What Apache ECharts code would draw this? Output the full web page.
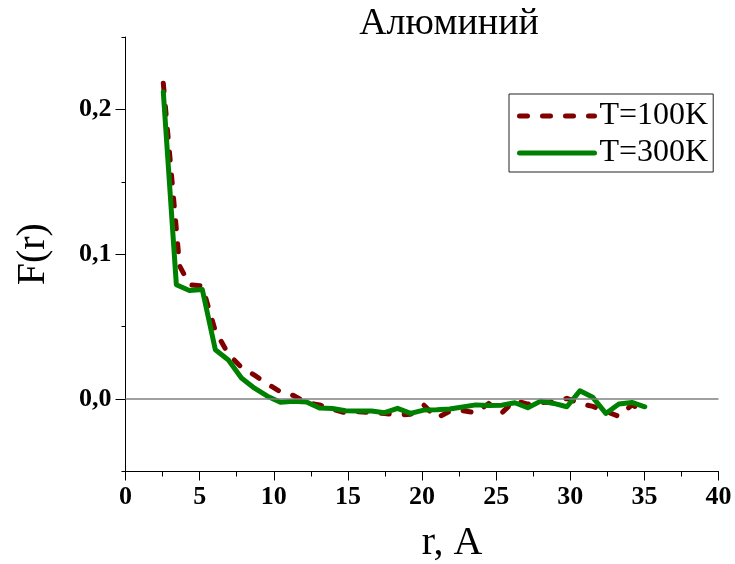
<!DOCTYPE html>
<html>
<head>
<meta charset="utf-8">
<script src="https://cdn.jsdelivr.net/npm/echarts@6/dist/echarts.min.js"></script>
<style>html,body{margin:0;padding:0;background:#fff}#c{width:735px;height:564px}</style>
</head>
<body>
<div id="c"></div>
<script>
// ---- data ----
var titleText = 'Алюминий';
var seriesNames = ['T=100K', 'T=300K'];
var r100 = [2.55, 3.65, 4.31, 5.18, 6.06, 6.94, 7.82, 8.70, 9.57, 10.45, 11.33, 12.21, 13.09, 13.96, 14.84, 15.72, 16.60, 17.48, 18.35, 19.23, 20.11, 20.99, 21.87, 22.74, 23.62, 24.50, 25.38, 26.26, 27.13, 28.01, 28.89, 29.77, 30.65, 31.52, 32.40, 33.28, 34.16, 35.03];
var f100 = [0.218, 0.092, 0.079, 0.078, 0.047, 0.031, 0.022, 0.0165, 0.0105, 0.005, 0.0025, -0.0025, -0.004, -0.007, -0.0095, -0.0088, -0.0093, -0.010, -0.011, -0.0105, -0.004, -0.013, -0.0085, -0.008, -0.0095, -0.003, -0.0095, -0.001, -0.0035, -0.0025, -0.002, 0.0005, -0.003, -0.005, -0.0085, -0.012, -0.004, -0.0085];
var r300 = [2.55, 3.43, 4.31, 5.18, 6.06, 6.94, 7.82, 8.70, 9.57, 10.45, 11.33, 12.21, 13.09, 13.96, 14.84, 15.72, 16.60, 17.48, 18.35, 19.23, 20.11, 20.99, 21.87, 22.74, 23.62, 24.50, 25.38, 26.26, 27.13, 28.01, 28.89, 29.77, 30.65, 31.52, 32.40, 33.28, 34.16, 35.03];
var f300 = [0.212, 0.079, 0.075, 0.0757, 0.034, 0.027, 0.0145, 0.0075, 0.002, -0.0022, -0.0015, -0.002, -0.0062, -0.0065, -0.008, -0.0082, -0.0083, -0.0094, -0.0064, -0.0099, -0.0076, -0.0073, -0.0068, -0.0055, -0.004, -0.0045, -0.0042, -0.0025, -0.006, -0.0014, -0.003, -0.0053, 0.0057, 0.0012, -0.0099, -0.0034, -0.0023, -0.0053];
var yMajorTicks = [0, 0.1, 0.2];
var yMinorTicks = [-0.05, 0.05, 0.15, 0.25];
var xTicks = [0, 5, 10, 15, 20, 25, 30, 35, 40];

function pairs(xs, ys) { return xs.map(function (x, i) { return [x, ys[i]]; }); }

var font = 'Liberation Serif';
var chart = echarts.init(document.getElementById('c'), null, { renderer: 'canvas' });
chart.setOption({
  animation: false,
  backgroundColor: '#ffffff',
  title: {
    text: titleText, left: 444, top: 0, textAlign: 'center',
    textStyle: { fontFamily: font, fontSize: 38, fontWeight: 'normal', color: '#000' }
  },
  legend: {
    data: seriesNames, orient: 'vertical', left: 509, top: 94,
    padding: [6, 5, 3, 8], itemGap: 5, itemWidth: 75, itemHeight: 30,
    borderColor: '#222', borderWidth: 1, backgroundColor: '#fff',
    itemStyle: { opacity: 0 },
    lineStyle: { width: 5, cap: 'round' },
    textStyle: { fontFamily: font, fontSize: 32, color: '#000', lineHeight: 30 }
  },
  grid: { left: 125.5, right: 16.5, top: 37, bottom: 92.5, containLabel: false, outerBoundsMode: 'none' },
  xAxis: {
    type: 'value', min: 0, max: 40, interval: 5,
    name: 'r, A', nameLocation: 'middle', nameGap: 52,
    nameTextStyle: { fontFamily: font, fontSize: 40, color: '#000', padding: [0, 0, 0, 60] },
    axisLine: { show: true, onZero: false, lineStyle: { color: '#000', width: 1 } },
    axisTick: { show: true, inside: false, length: 9, lineStyle: { color: '#000' } },
    minorTick: { show: true, splitNumber: 2, length: 5, lineStyle: { color: '#000' } },
    splitLine: { show: false },
    axisLabel: { customValues: xTicks, fontFamily: font, fontSize: 26, fontWeight: 'bold', color: '#000', margin: 13 }
  },
  yAxis: [{
    type: 'value', min: -0.05, max: 0.25,
    name: 'F(r)', nameLocation: 'middle', nameGap: 72, nameRotate: 90,
    nameTextStyle: { fontFamily: font, fontSize: 40, color: '#000' },
    axisLine: { show: true, onZero: false, lineStyle: { color: '#000', width: 1 } },
    axisTick: { show: true, inside: false, length: 10, customValues: yMajorTicks, lineStyle: { color: '#000' } },
    splitLine: { show: false },
    axisLabel: {
      customValues: yMajorTicks, fontFamily: font, fontSize: 26, fontWeight: 'bold', color: '#000', margin: 14,
      formatter: function (v) { return v.toFixed(1).replace('.', ','); }
    }
  }, {
    type: 'value', min: -0.05, max: 0.25, position: 'left', offset: 0,
    axisLine: { show: false },
    axisTick: { show: true, inside: false, length: 4, customValues: yMinorTicks, lineStyle: { color: '#000' } },
    axisLabel: { show: false }, splitLine: { show: false }
  }],
  series: [{
    name: seriesNames[0], type: 'line', data: pairs(r100, f100), yAxisIndex: 0,
    symbol: 'none', showSymbol: false, z: 2,
    lineStyle: { color: '#800000', width: 5, type: [8, 15], cap: 'round', join: 'round' },
    itemStyle: { color: '#800000' },
    markLine: {
      silent: true, symbol: 'none', label: { show: false },
      lineStyle: { color: '#808080', width: 1.5, type: 'solid' },
      data: [{ yAxis: 0 }]
    }
  }, {
    name: seriesNames[1], type: 'line', data: pairs(r300, f300), yAxisIndex: 0,
    symbol: 'none', showSymbol: false, z: 3,
    lineStyle: { color: '#008000', width: 5, type: 'solid', cap: 'round', join: 'round' },
    itemStyle: { color: '#008000' }
  }]
});
</script>
</body>
</html>
